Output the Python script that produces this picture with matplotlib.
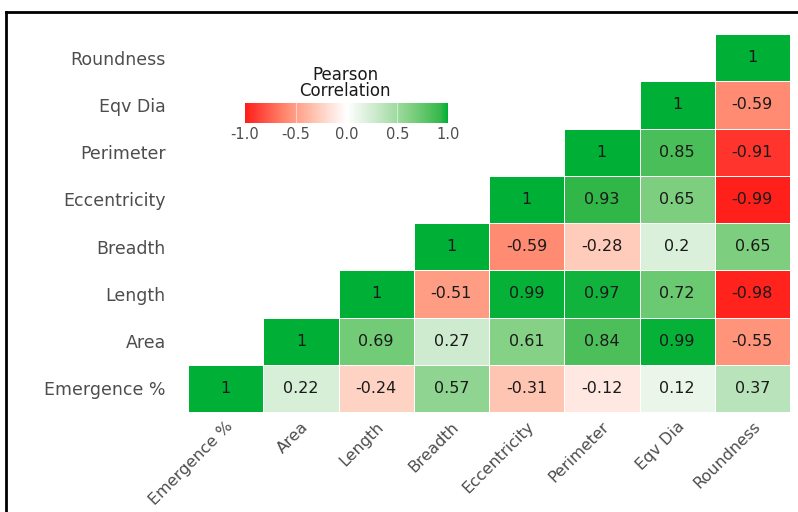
import numpy as np
import matplotlib.pyplot as plt
from matplotlib.colors import LinearSegmentedColormap
from matplotlib.lines import Line2D

plt.rcParams['font.family'] = ['DejaVu Sans']

variables = ['Emergence %', 'Area', 'Length', 'Breadth', 'Eccentricity',
             'Perimeter', 'Eqv Dia', 'Roundness']

# correlations of each row variable with itself and the variables to its right
row_emergence = [1, 0.22, -0.24, 0.57, -0.31, -0.12, 0.12, 0.37]
row_area = [1, 0.69, 0.27, 0.61, 0.84, 0.99, -0.55]
row_length = [1, -0.51, 0.99, 0.97, 0.72, -0.98]
row_breadth = [1, -0.59, -0.28, 0.2, 0.65]
row_eccentricity = [1, 0.93, 0.65, -0.99]
row_perimeter = [1, 0.85, -0.91]
row_eqvdia = [1, -0.59]
row_roundness = [1]

rows = [row_emergence, row_area, row_length, row_breadth, row_eccentricity,
        row_perimeter, row_eqvdia, row_roundness]

n = len(variables)
corr = np.full((n, n), np.nan)
for j, r in enumerate(rows):
    for k, v in enumerate(r):
        corr[j, j + k] = v

cmap = LinearSegmentedColormap.from_list('rwg', [
    (0.0, '#FF1E1A'), (0.205, '#FF8C72'), (0.36, '#FFCBBA'), (0.5, '#FFFFFF'),
    (0.635, '#CFEBCF'), (0.825, '#7ECF80'), (0.965, '#35B84A'), (1.0, '#00B036')])

fig = plt.figure(figsize=(7.98, 5.12), dpi=100)
ax = fig.add_axes([188 / 798, 1 - 412 / 512, 602 / 798, 378 / 512])

mesh = ax.pcolormesh(np.arange(n + 1) - 0.5, np.arange(n + 1) - 0.5,
                     np.ma.masked_invalid(corr), cmap=cmap, vmin=-1, vmax=1,
                     edgecolors='white', linewidth=0.4)

for j in range(n):
    for i in range(n):
        if not np.isnan(corr[j, i]):
            ax.text(i, j, '{:g}'.format(corr[j, i]), ha='center', va='center',
                    fontsize=11.5, color='#1A1A1A')

ax.set_xlim(-0.5, n - 0.5)
ax.set_ylim(-0.5, n - 0.5)
ax.set_xticks(range(n))
ax.set_yticks(range(n))
ax.set_xticklabels(variables, rotation=45, ha='right', va='top',
                   rotation_mode='anchor', fontsize=11.5, color='#4D4D4D')
ax.set_yticklabels(variables, fontsize=12.5, color='#4D4D4D')
ax.tick_params(length=0, pad=16)
ax.tick_params(axis='x', pad=5)
for s in ax.spines.values():
    s.set_visible(False)

# colour legend
cax = fig.add_axes([245 / 798, 1 - 123 / 512, 203 / 798, 20 / 512])
cb = fig.colorbar(mesh, cax=cax, orientation='horizontal',
                  ticks=[-1, -0.5, 0, 0.5, 1])
cb.outline.set_visible(False)
cb.ax.set_xticklabels(['-1.0', '-0.5', '0.0', '0.5', '1.0'])
cb.ax.tick_params(length=0, labelsize=10.5, labelcolor='#4D4D4D', pad=3)
for t in [-0.5, 0, 0.5]:
    cb.ax.axvline(t, color='white', lw=0.8, alpha=0.5)
fig.text(345 / 798, 1 - 83 / 512, 'Pearson\nCorrelation', ha='center',
         va='center', fontsize=12, color='#1A1A1A', linespacing=0.9)

# outer frame (top and left)
fig.add_artist(Line2D([6 / 798, 1], [1 - 12 / 512, 1 - 12 / 512],
                      transform=fig.transFigure, color='black', lw=2))
fig.add_artist(Line2D([6 / 798, 6 / 798], [0, 1 - 12 / 512],
                      transform=fig.transFigure, color='black', lw=2))

fig.savefig('out.png', dpi=100)
